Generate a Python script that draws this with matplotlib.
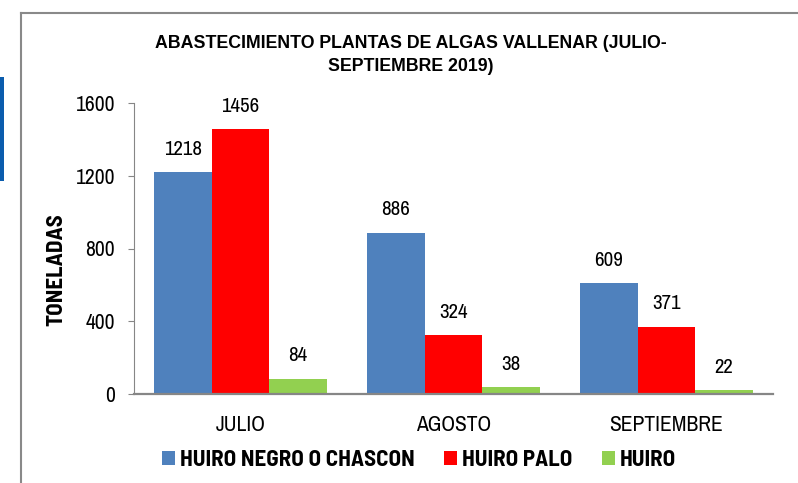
import matplotlib
matplotlib.use('Agg')
import matplotlib.pyplot as plt
from matplotlib.lines import Line2D
from matplotlib.patches import Rectangle
import numpy as np

months = ['JULIO', 'AGOSTO', 'SEPTIEMBRE']
series_names = ['HUIRO NEGRO O CHASCON', 'HUIRO PALO', 'HUIRO']
huiro_negro = [1218, 886, 609]
huiro_palo = [1456, 324, 371]
huiro = [84, 38, 22]
y_ticks = [0, 400, 800, 1200, 1600]

colors = ['#4F81BD', '#FF0000', '#92D050']
# narrow faces like Arial Narrow, fall back to Liberation Sans
plt.rcParams['font.family'] = ['Archivo Narrow', 'Liberation Sans', 'DejaVu Sans']
bold_fam = ['Barlow Semi Condensed', 'Liberation Sans', 'DejaVu Sans']

fig = plt.figure(figsize=(7.98, 4.83), dpi=100)
ax = fig.add_axes([134 / 798, 1 - 394 / 483, (773 - 134) / 798, (394 - 103) / 483])

x = np.arange(len(months))
w = 0.27
for i, vals in enumerate([huiro_negro, huiro_palo, huiro]):
    bars = ax.bar(x + (i - 1) * w, vals, width=w, color=colors[i], label=series_names[i])
    for b, v in zip(bars, vals):
        ax.annotate(str(v), (b.get_x() + b.get_width() / 2, v), xytext=(0, 16.5),
                    textcoords='offset points', ha='center', va='center', fontsize=15)

ax.set_xlim(-0.5, 2.5)
ax.set_ylim(0, 1600)
ax.set_yticks(y_ticks)
ax.set_xticks(x)
ax.set_xticklabels(months)
for s in ['top', 'right']:
    ax.spines[s].set_visible(False)
ax.spines['left'].set_color('#868686')
ax.spines['bottom'].set_color('#868686')
ax.spines['bottom'].set_linewidth(1.6)
ax.tick_params(axis='y', direction='out', length=4.5, color='#868686', labelsize=15.5, pad=9)
ax.tick_params(axis='x', length=0, labelsize=15.5, pad=15)

title_kw = dict(ha='center', va='center', fontsize=12.8, fontweight='bold',
                family=['Liberation Sans', 'DejaVu Sans'])
fig.text(411 / 798, 1 - 43 / 483, 'ABASTECIMIENTO PLANTAS DE ALGAS VALLENAR (JULIO-', **title_kw)
fig.text(411 / 798, 1 - 66.5 / 483, 'SEPTIEMBRE 2019)', **title_kw)
fig.text(56 / 798, 1 - 270 / 483, 'TONELADAS', rotation=90, ha='center', va='center',
         fontsize=16.5, fontweight='bold', family=bold_fam)

leg = fig.legend(loc='center', bbox_to_anchor=(419 / 798, 1 - 460 / 483), ncol=3,
                 frameon=False, handlelength=0.58, handleheight=0.58, handletextpad=0.2,
                 columnspacing=1.3, prop={'weight': 'bold', 'size': 16.5, 'family': bold_fam})

# outer frame and side marker
fig.add_artist(Line2D([21 / 798, 21 / 798], [0, 1 - 13 / 483], color='#898989', lw=1.5))
fig.add_artist(Line2D([21 / 798, 1], [1 - 13 / 483, 1 - 13 / 483], color='#898989', lw=1.5))
fig.add_artist(Rectangle((0, 1 - 181 / 483), 4 / 798, 104 / 483, transform=fig.transFigure,
                         color='#0B5CAD', lw=0))

fig.savefig('out.png', dpi=100)
